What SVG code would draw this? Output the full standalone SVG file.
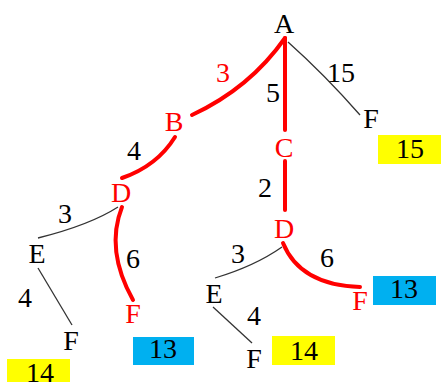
<svg xmlns="http://www.w3.org/2000/svg" width="441" height="382" viewBox="0 0 441 382">
<style>
text{font-size:28px;text-anchor:middle;fill:#000}
.r{fill:#ff0000}
.hot{fill:none;stroke:#ff0000;stroke-width:4;stroke-linecap:round}
.thin{fill:none;stroke:#333;stroke-width:1.3}
.y{fill:#ffff00}
.b{fill:#00b0f0}
</style>
<rect width="441" height="382" fill="#fff"/>
<g id="connectors">
<path class="hot" d="M285,38 Q250,88 192,115"/>
<path class="hot" d="M285,38 L285,130"/>
<path class="thin" d="M288,42 Q325,75 360,115"/>
<path class="hot" d="M175,137 Q157,166 122,178"/>
<path class="thin" d="M118,207 Q90,225 38,238"/>
<path class="thin" d="M38,268 L72,325"/>
<path class="hot" d="M122,207 Q105,250 133,300"/>
<path class="hot" d="M285,161 L285,210"/>
<path class="thin" d="M282,247 Q255,266 215,278"/>
<path class="thin" d="M213,307 L252,343"/>
<path class="hot" d="M283,243 Q300,285 360,287"/>
</g>
<g font-family="Liberation Serif, Times New Roman, serif">
<g id="labels">
<text class="r" x="223" y="82">3</text>
<text x="273" y="102">5</text>
<text x="341" y="82">15</text>
<text x="134" y="160">4</text>
<text x="65" y="223">3</text>
<text x="25" y="307">4</text>
<text x="133" y="268">6</text>
<text x="265" y="197">2</text>
<text x="238" y="263">3</text>
<text x="327" y="267">6</text>
<text x="254" y="325">4</text>
</g>
<g id="nA"><text x="284" y="33">A</text></g>
<g id="nB"><text class="r" x="174" y="131">B</text></g>
<g id="nC"><text class="r" x="284" y="157">C</text></g>
<g id="nF1"><text x="371" y="128">F</text></g>
<g id="cost15"><rect class="y" x="378" y="135" width="63" height="29"/><text x="410" y="158">15</text></g>
<g id="nD1"><text class="r" x="121" y="202">D</text></g>
<g id="nE1"><text x="37" y="263">E</text></g>
<g id="nF2"><text x="71" y="350">F</text></g>
<g id="cost14a"><rect class="y" x="7" y="359" width="63" height="23"/><text x="40" y="382">14</text></g>
<g id="nF3"><text class="r" x="133" y="323">F</text></g>
<g id="cost13a"><rect class="b" x="133" y="337" width="61" height="28"/><text x="163" y="358">13</text></g>
<g id="nD2"><text class="r" x="284" y="238">D</text></g>
<g id="nE2"><text x="214" y="303">E</text></g>
<g id="nF4"><text x="254" y="368">F</text></g>
<g id="cost14b"><rect class="y" x="272" y="336" width="63" height="29"/><text x="304" y="360">14</text></g>
<g id="nF5"><text class="r" x="360" y="310">F</text></g>
<g id="cost13b"><rect class="b" x="373" y="276" width="63" height="29"/><text x="404" y="298">13</text></g>
</g>
</svg>
